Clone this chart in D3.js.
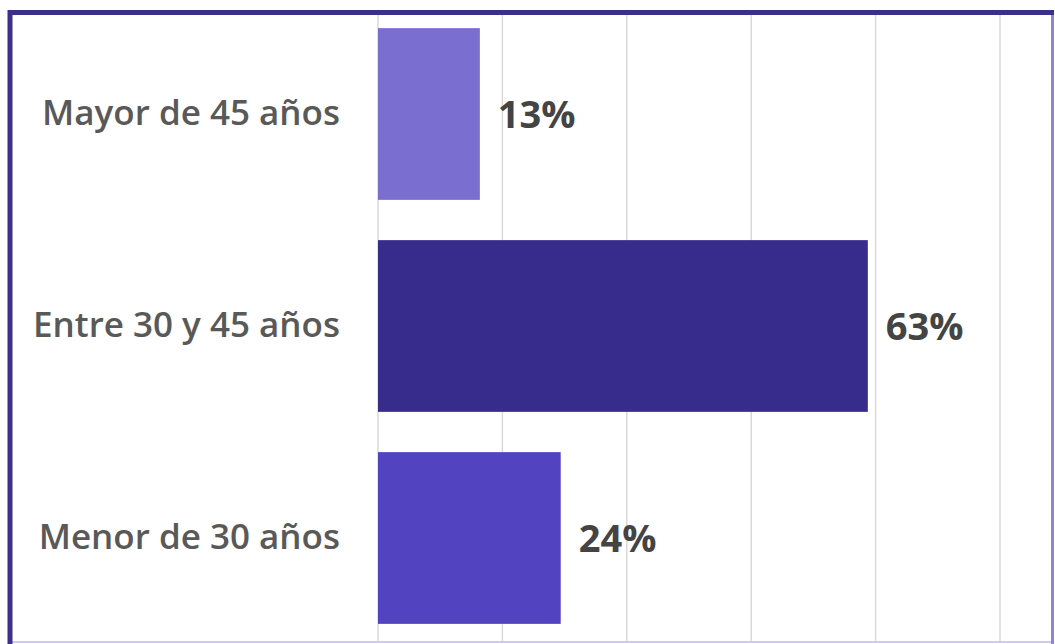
<!DOCTYPE html>
<html>
<head>
<meta charset="utf-8">
<script src="https://cdn.jsdelivr.net/npm/d3@7"></script>
<style>
  html, body { margin: 0; padding: 0; background: #fff; }
</style>
</head>
<body>
<div id="chart"></div>
<script>
var width = 1055,
    height = 644;

// data (top to bottom)
var categories = ["Mayor de 45 años", "Entre 30 y 45 años", "Menor de 30 años"];
var values = [13.1, 63, 23.5];
var valueLabels = ["13%", "63%", "24%"];
var barColors = ["#7a6ed1", "#372c8c", "#5243c0"];
var gridTicks = [0, 16, 32, 48, 64, 80];

var svg = d3.select("#chart").append("svg")
  .attr("width", width)
  .attr("height", height);

var x = d3.scaleLinear()
  .domain([0, 80])
  .range([378, 1000]);

var y = d3.scaleBand()
  .domain(categories)
  .range([8, 644])
  .paddingInner(0.19)
  .paddingOuter(0.095);

// vertical gridlines
svg.selectAll("line.grid")
  .data(gridTicks)
  .enter()
  .append("line")
  .attr("class", "grid")
  .attr("x1", function(d){ return x(d); })
  .attr("x2", function(d){ return x(d); })
  .attr("y1", 15)
  .attr("y2", 642)
  .style("stroke", "#d9d9d9")
  .style("stroke-width", 1.5);

var rows = categories.map(function(c, i){
  return {cat: c, value: values[i], label: valueLabels[i], color: barColors[i]};
});

svg.selectAll("rect.bar")
  .data(rows)
  .enter()
  .append("rect")
  .attr("class", "bar")
  .attr("x", x(0))
  .attr("y", function(d){ return y(d.cat); })
  .attr("width", function(d){ return x(d.value) - x(0); })
  .attr("height", y.bandwidth())
  .style("fill", function(d){ return d.color; });

// category labels
svg.selectAll("text.cat")
  .data(rows)
  .enter()
  .append("text")
  .attr("class", "cat")
  .attr("x", 340)
  .attr("y", function(d){ return y(d.cat) + y.bandwidth() / 2 - 1; })
  .attr("dy", "0.35em")
  .style("text-anchor", "end")
  .style("font", "600 35px 'Open Sans'")
  .style("fill", "#595959")
  .text(function(d){ return d.cat; });

// value labels
svg.selectAll("text.val")
  .data(rows)
  .enter()
  .append("text")
  .attr("class", "val")
  .attr("x", function(d){ return x(d.value) + 18; })
  .attr("y", function(d){ return y(d.cat) + y.bandwidth() / 2 + 1; })
  .attr("dy", "0.35em")
  .style("font", "bold 38px 'Open Sans'")
  .style("fill", "#444")
  .text(function(d){ return d.label; });

// frame
svg.append("line")
  .attr("x1", 10).attr("x2", 1052).attr("y1", 642).attr("y2", 642)
  .style("stroke", "#cfcaf0").style("stroke-width", 2);
svg.append("line")
  .attr("x1", 1052.5).attr("x2", 1052.5).attr("y1", 12).attr("y2", 644)
  .style("stroke", "#8f86cc").style("stroke-width", 3);
svg.append("path")
  .attr("d", "M10,644 L10,12.5 L1054,12.5")
  .style("fill", "none")
  .style("stroke", "#3b3088")
  .style("stroke-width", 5);
</script>
</body>
</html>
